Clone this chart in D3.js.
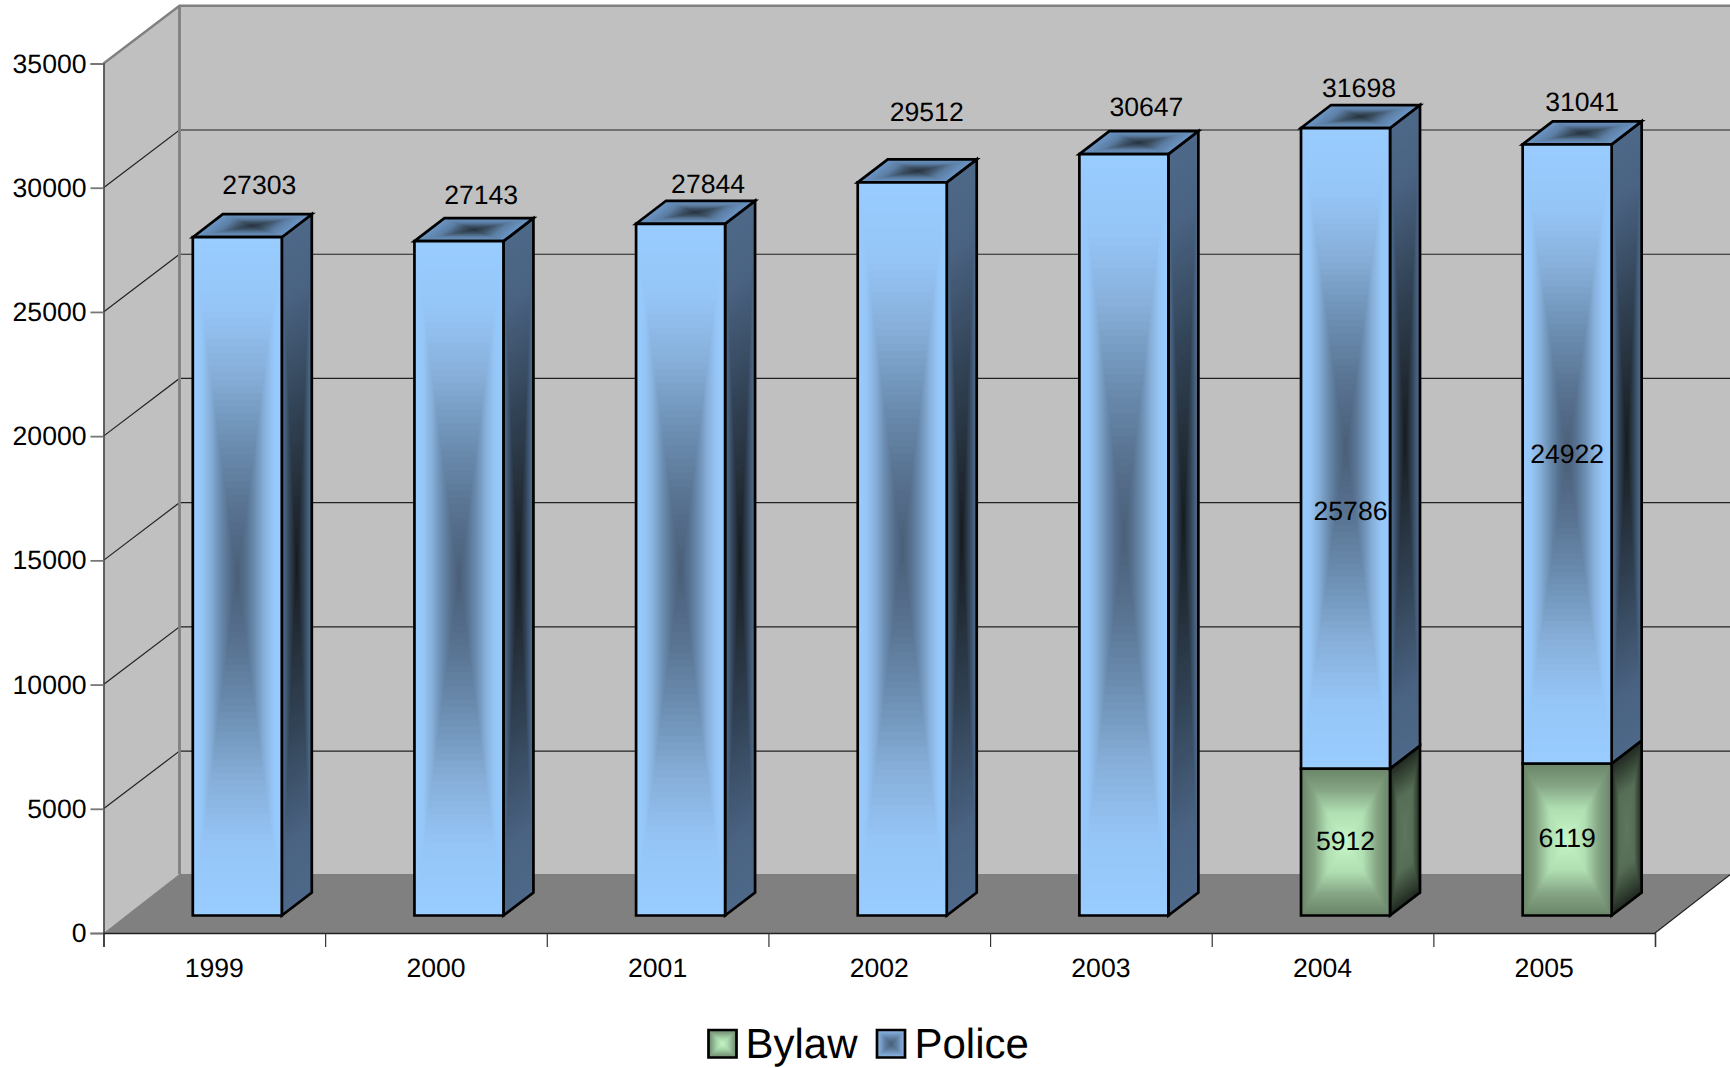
<!DOCTYPE html>
<html>
<head>
<meta charset="utf-8">
<style>html,body{margin:0;padding:0;background:#fff}svg{display:block}text{font-family:"Liberation Sans",Arial,sans-serif;fill:#000;text-rendering:geometricPrecision}</style>
<script src="https://cdn.jsdelivr.net/npm/d3@7"></script>
</head>
<body>
<svg id="chart" width="1730" height="1068"></svg>
<script>
const years = ["1999","2000","2001","2002","2003","2004","2005"];
const bylaw = [0,0,0,0,0,5912,6119];
const police = [27303,27143,27844,29512,30647,25786,24922];
const totals = [27303,27143,27844,29512,30647,31698,31041];
const yTicks = [0,5000,10000,15000,20000,25000,30000,35000];
const seriesNames = ["Bylaw","Police"];

// manual label placement of the original chart (relative to the bar)
const totalNudgeX = [22,22.2,27.5,24.5,22.5,13.5,15];
const totalNudgeY = [-43,-37,-30.5,-61,-38,-31,-33];

const W=1730,H=1068;
const pLeft=103.5,pRight=1655,pBottom=933,pTop=63.5;
const wallDX=76,wallDY=-57.7,floorDY=-59;
const barDX=30,barDY=-23,barW=89,barOffset=89.3,barLift=17.5;

const svg=d3.select("#chart");
const x=d3.scaleBand().domain(years).range([pLeft,pRight]);
const xEdge=d3.scaleLinear().domain([0,years.length]).range([pLeft,pRight]);
const y=d3.scaleLinear().domain([0,35000]).range([pBottom,pTop]);
const barY=v=>y(v)-barLift;
const line=d3.line();

// walls
const g=svg.append("g");
g.append("path").attr("d",line([[pLeft,pTop],[pLeft+wallDX,pTop+wallDY],[pLeft+wallDX,pBottom+wallDY],[pLeft,pBottom]])+"Z").attr("fill","#c0c0c0");
g.append("rect").attr("x",pLeft+wallDX).attr("y",pTop+wallDY).attr("width",W-pLeft-wallDX).attr("height",pBottom-pTop).attr("fill","#c0c0c0");
g.append("path").attr("d",line([[pLeft,pBottom],[pLeft+wallDX,pBottom+floorDY],[pRight+wallDX,pBottom+floorDY],[pRight,pBottom]])+"Z").attr("fill","#808080");

// gridlines
yTicks.slice(1,-1).forEach(t=>{
  g.append("path").attr("d",line([[pLeft,y(t)],[pLeft+wallDX,y(t)+wallDY],[W,y(t)+wallDY]])).attr("fill","none").attr("stroke","#222").attr("stroke-width",1.2);
});
// wall edges
g.append("path").attr("d",line([[pLeft,pTop],[pLeft+wallDX,pTop+wallDY],[W,pTop+wallDY]])).attr("fill","none").attr("stroke","#808080").attr("stroke-width",2.4);
g.append("path").attr("d",line([[pLeft+wallDX,pTop+wallDY],[pLeft+wallDX,pBottom+floorDY]])).attr("fill","none").attr("stroke","#808080").attr("stroke-width",2.8);
g.append("path").attr("d",line([[pRight,pBottom],[pRight+wallDX,pBottom+floorDY]])).attr("fill","none").attr("stroke","#222").attr("stroke-width",1.2);

// axes
const yAxis=d3.axisLeft(y).tickValues(yTicks).tickSize(13).tickPadding(4).tickFormat(d3.format("d"));
const ya=svg.append("g").attr("transform",`translate(${pLeft},0)`).call(yAxis);
ya.select(".domain").attr("stroke","#444").attr("stroke-width",1.6);
ya.selectAll(".tick line").attr("stroke","#777").attr("stroke-width",1.8);
ya.selectAll("text").attr("font-size",26.6).attr("dy","0.32em");

const xTickAxis=d3.axisBottom(xEdge).tickValues(d3.range(years.length+1)).tickSize(14).tickFormat("");
const xt=svg.append("g").attr("transform",`translate(0,${pBottom})`).call(xTickAxis);
xt.select(".domain").attr("stroke","#222").attr("stroke-width",1.4);
xt.selectAll(".tick line").attr("stroke","#333").attr("stroke-width",1.2);
const xLab=d3.axisBottom(x).tickSize(0).tickPadding(25.5);
const xl=svg.append("g").attr("transform",`translate(0,${pBottom})`).call(xLab);
xl.select(".domain").remove();
xl.selectAll("text").attr("font-size",26.6).attr("dy","0.71em");

// faux rectangular gradients
const ramp=(stops)=>d3.scaleLinear().domain(stops.map(s=>s[0])).range(stops.map(s=>s[1])).interpolate(d3.interpolateRgb);
const rFront=ramp([[0,"#4a5f78"],[.2,"#587290"],[.4,"#6c8eb2"],[.6,"#87afd9"],[.8,"#96c6f8"],[1,"#99ccff"]]);
const rSide=ramp([[0,"#171c21"],[.25,"#26313c"],[.5,"#34465a"],[.8,"#4a6382"],[1,"#4d6888"]]);
const rTop=ramp([[0,"#28333f"],[.3,"#3f5468"],[.6,"#5d7fa5"],[1,"#6e98c8"]]);
const gFront=ramp([[0,"#c6f6c8"],[.4,"#b0dfb2"],[.7,"#86a685"],[1,"#6a8468"]]);
const gSide=ramp([[0,"#5f785f"],[.5,"#566e56"],[.8,"#364536"],[1,"#202720"]]);
const STEPS=50;
function face(parent,pts,rp){
  const c=[d3.mean(pts,p=>p[0]),d3.mean(pts,p=>p[1])];
  const f=parent.append("g");
  f.selectAll("path").data(d3.range(STEPS,0,-1).map(i=>i/STEPS)).join("path")
    .attr("d",t=>line(pts.map(p=>[c[0]+(p[0]-c[0])*t,c[1]+(p[1]-c[1])*t]))+"Z")
    .attr("fill",t=>rp(t-0.5/STEPS));
  parent.append("path").attr("d",line(pts)+"Z").attr("fill","none").attr("stroke","#000").attr("stroke-width",2.7).attr("stroke-linejoin","miter");
}
function box(parent,x0,y0,y1,rf,rs,withTop){
  const x1=x0+barW;
  face(parent,[[x1,y0],[x1+barDX,y0+barDY],[x1+barDX,y1+barDY],[x1,y1]],rs);
  if(withTop) face(parent,[[x0,y1],[x0+barDX,y1+barDY],[x1+barDX,y1+barDY],[x1,y1]],rTop);
  face(parent,[[x0,y0],[x1,y0],[x1,y1],[x0,y1]],rf);
}

// bars
const bars=svg.append("g");
years.forEach((yr,i)=>{
  const x0=x(yr)+barOffset;
  if(bylaw[i]>0) box(bars,x0,barY(0),barY(bylaw[i]),gFront,gSide,false);
  box(bars,x0,barY(bylaw[i]),barY(bylaw[i]+police[i]),rFront,rSide,true);
});

// data labels
const labels=svg.append("g").attr("text-anchor","middle");
years.forEach((yr,i)=>{
  const cx=x(yr)+barOffset+barW/2;
  labels.append("text").attr("x",cx+totalNudgeX[i]).attr("y",barY(totals[i])+totalNudgeY[i]).attr("font-size",26.6).text(totals[i]);
  if(bylaw[i]>0){
    labels.append("text").attr("x",cx).attr("y",(barY(0)+barY(bylaw[i]))/2+8).attr("font-size",26.6).text(bylaw[i]);
    const mid=(barY(bylaw[i])+barY(bylaw[i]+police[i]))/2+9;
    labels.append("text").attr("x",cx+(i===5?5:0)).attr("y",mid+(i===5?63:0)).attr("font-size",26.6).text(police[i]);
  }
});

// legend
const legend=svg.append("g");
const legX=[708.5,877],legT=[745.5,914.5],legRamp=[
  ramp([[0,"#c4f4c6"],[.4,"#a8d6aa"],[.8,"#7f9f7f"],[1,"#6f8f6f"]]),
  ramp([[0,"#4a5f78"],[.4,"#5f7d9f"],[.8,"#80a8d4"],[1,"#8cbaec"]])];
seriesNames.forEach((s,i)=>{
  face(legend,[[legX[i],1030],[legX[i]+28,1030],[legX[i]+28,1057.5],[legX[i],1057.5]],legRamp[i]);
  legend.append("text").attr("x",legT[i]).attr("y",1057.7).attr("font-size",42).text(s);
});
</script>
</body>
</html>
